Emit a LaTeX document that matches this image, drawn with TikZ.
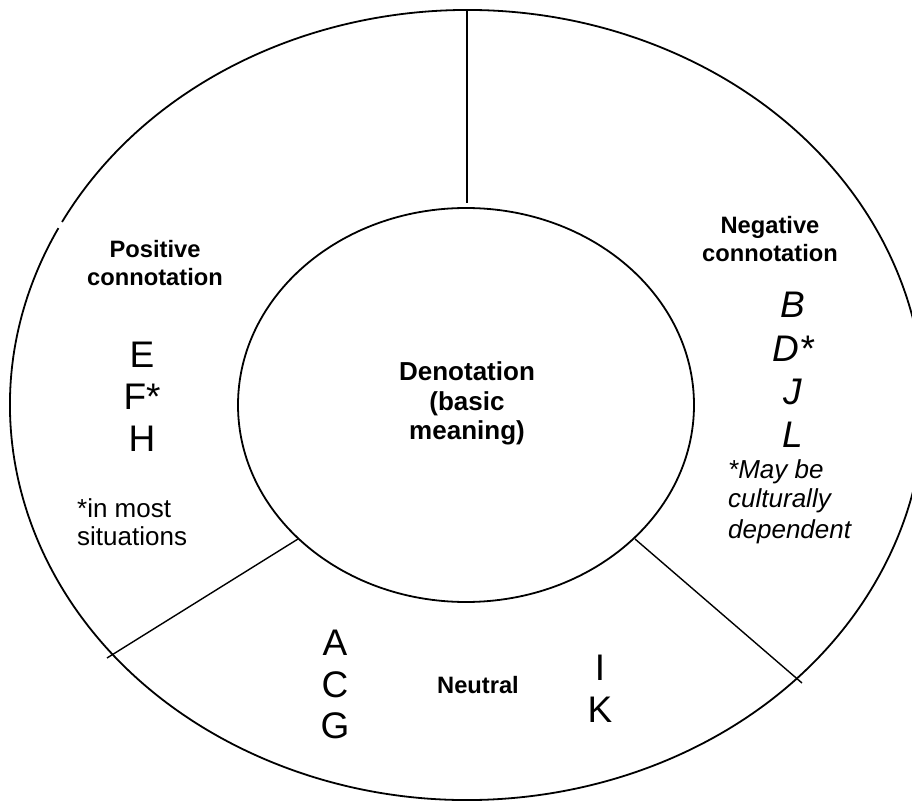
\documentclass[tikz,border=0pt]{standalone}
\usepackage{fontspec}
\setmainfont{Liberation Sans}
\begin{document}
\begin{tikzpicture}[x=1pt,y=1pt,
  ring/.style={line width=1.8pt},
  divider/.style={line width=1.4pt},
  head/.style={inner sep=0pt,anchor=base,font=\fontsize{23.7}{28}\selectfont\bfseries},
  denot/.style={inner sep=0pt,anchor=base,font=\fontsize{26}{30}\selectfont\bfseries},
  letter/.style={inner sep=0pt,anchor=base,font=\fontsize{37}{42}\selectfont},
  iletter/.style={inner sep=0pt,anchor=base,font=\fontsize{37}{42}\selectfont\itshape},
  note/.style={inner sep=0pt,anchor=base west,font=\fontsize{26}{29}\selectfont},
  inote/.style={inner sep=0pt,anchor=base west,font=\fontsize{26}{29}\selectfont\itshape}]
\useasboundingbox (0,0) rectangle (912,801);
\fill[white] (0,0) rectangle (912,801);
\begin{scope}
\clip (0,0) rectangle (912,801);
% outer ring with a small break on the upper left
\draw[ring] (467,396) ++(153.4:457 and 395) arc[start angle=153.4, end angle=512.4, x radius=457, y radius=395];
\end{scope}
% inner ellipse
\draw[ring] (466,396) ellipse[x radius=228, y radius=197];
% dividers
\coordinate (vtop) at (467,790);
\coordinate (vbot) at (467,598);
\coordinate (lin) at (298,262);
\coordinate (lout) at (107,143);
\coordinate (rin) at (635,262);
\coordinate (rout) at (802,118);
\draw[ring] (vtop) -- (vbot);
\draw[divider] (lin) -- (lout);
\draw[divider] (rin) -- (rout);
% centre
\node[denot] (d1) at (467,420) {Denotation};
\node[denot] (d2) at (467,390) {(basic};
\node[denot] (d3) at (467,361) {meaning)};
% positive
\node[head] (p1) at (155,543) {Positive};
\node[head] (p2) at (155,515) {connotation};
\node[letter] (pe) at (142,433) {E};
\node[letter] (pf) at (142,391) {F*};
\node[letter] (ph) at (142,349) {H};
\node[note] (pn1) at (77,284) {*in most};
\node[note] (pn2) at (77,256) {situations};
% negative
\node[head] (n1) at (770,567) {Negative};
\node[head] (n2) at (770,539) {connotation};
\node[iletter] (nb) at (793,483) {B};
\node[iletter] (nd) at (793,439) {D*};
\node[iletter] (nj) at (793,396) {J};
\node[iletter] (nl) at (793,353) {L};
\node[inote] (nn1) at (728,323) {*May be};
\node[inote] (nn2) at (728,294) {culturally};
\node[inote] (nn3) at (728,263) {dependent};
% neutral
\node[head] (u) at (478,108) {Neutral};
\node[letter] (ua) at (335,146) {A};
\node[letter] (uc) at (335,104) {C};
\node[letter] (ug) at (335,63) {G};
\node[letter] (ui) at (600,121) {I};
\node[letter] (uk) at (600,79) {K};
\end{tikzpicture}
\end{document}
